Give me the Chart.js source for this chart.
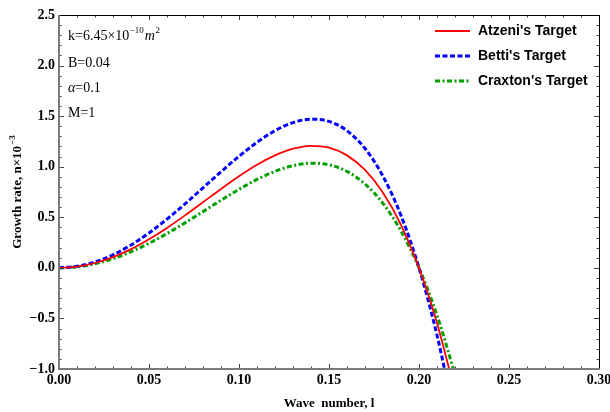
<!DOCTYPE html>
<html>
<head>
<meta charset="utf-8">
<script src="https://cdn.jsdelivr.net/npm/chart.js@4/dist/chart.umd.min.js"></script>
<style>
    html, body { margin: 0; padding: 0; background: #fff; }
    #wrap { width: 610px; height: 412px; }
</style>
</head>
<body>
<div id="wrap"><canvas id="growthChart" width="610" height="412"></canvas></div>
<script>
// Values
const waveNumbers = [0, 0.01, 0.02, 0.03, 0.04, 0.05, 0.06, 0.07, 0.08, 0.09, 0.10, 0.11,
    0.12, 0.13, 0.14, 0.15, 0.16, 0.17, 0.18, 0.19, 0.20, 0.21, 0.22];
const atzeniRate = [0, 0.012, 0.048, 0.106, 0.185, 0.283, 0.395, 0.519, 0.649, 0.780, 0.905, 1.019,
    1.112, 1.178, 1.207, 1.188, 1.112, 0.968, 0.743, 0.425, 0, -0.546, -1.227];
const bettiRate = [0, 0.015, 0.058, 0.129, 0.226, 0.345, 0.482, 0.632, 0.791, 0.950, 1.103, 1.241,
    1.356, 1.436, 1.470, 1.448, 1.356, 1.180, 0.906, 0.518, 0, -0.665, -1.495];
const craxtonRate = [0, 0.010, 0.041, 0.091, 0.159, 0.243, 0.339, 0.445, 0.556, 0.669, 0.776, 0.874,
    0.954, 1.010, 1.035, 1.019, 0.954, 0.830, 0.637, 0.364, 0, -0.468, -1.052];

const seriesLabels = ["Atzeni's Target", "Betti's Target", "Craxton's Target"];
const xTickValues = [0, 0.05, 0.10, 0.15, 0.20, 0.25, 0.30];
const yTickValues = [-1.0, -0.5, 0.0, 0.5, 1.0, 1.5, 2.0, 2.5];

const toPoints = (ys) => waveNumbers.map((x, i) => ({ x: x, y: ys[i] }));

// frame, inward ticks, legend box, parameter text and y title
const decorPlugin = {
    id: 'decor',
    afterDraw(chart) {
        const ctx = chart.ctx;
        const area = chart.chartArea;
        const xs = chart.scales.x;
        const ys = chart.scales.y;
        ctx.save();

        // minor + major ticks on all four sides
        ctx.lineWidth = 1;
        ctx.strokeStyle = '#444';
        for (let i = 0; i <= 30; i++) {
            const px = Math.round(xs.getPixelForValue(i * 0.01)) + 0.5;
            const len = i % 5 === 0 ? 5 : 2.5;
            ctx.beginPath();
            ctx.moveTo(px, area.bottom); ctx.lineTo(px, area.bottom - len);
            ctx.moveTo(px, area.top); ctx.lineTo(px, area.top + len);
            ctx.stroke();
        }
        for (let i = 0; i <= 35; i++) {
            const py = Math.round(ys.getPixelForValue(-1 + i * 0.1)) + 0.5;
            const len = i % 5 === 0 ? 5 : 2.5;
            ctx.beginPath();
            ctx.moveTo(area.left, py); ctx.lineTo(area.left + len, py);
            ctx.moveTo(area.right, py); ctx.lineTo(area.right - len, py);
            ctx.stroke();
        }

        // frame
        ctx.strokeStyle = '#000';
        ctx.lineWidth = 1;
        ctx.beginPath();
        ctx.moveTo(area.left, area.top + 0.5); ctx.lineTo(area.right + 0.5, area.top + 0.5);
        ctx.lineTo(area.right + 0.5, area.bottom);
        ctx.stroke();
        ctx.strokeStyle = '#7a7a7a';
        ctx.lineWidth = 2;
        ctx.beginPath();
        ctx.moveTo(area.left, area.top); ctx.lineTo(area.left, area.bottom);
        ctx.lineTo(area.right + 1, area.bottom);
        ctx.stroke();

        // legend
        ctx.font = 'bold 14px "Liberation Sans", Arial, sans-serif';
        ctx.textBaseline = 'middle';
        ctx.fillStyle = '#000';
        chart.data.datasets.forEach((ds, i) => {
            const y = 31 + i * 25;
            ctx.strokeStyle = ds.borderColor;
            ctx.lineWidth = ds.borderWidth;
            ctx.setLineDash(ds.borderDash || []);
            ctx.beginPath();
            ctx.moveTo(435, y); ctx.lineTo(470, y);
            ctx.stroke();
            ctx.setLineDash([]);
            ctx.fillText(ds.label, 478, y);
        });

        // parameter annotations
        ctx.textBaseline = 'alphabetic';
        const serif = '"Liberation Serif", "Times New Roman", serif';
        let x = 68;
        ctx.font = '14px ' + serif;
        ctx.fillText('k=6.45\u00d710', x, 40);
        x += ctx.measureText('k=6.45\u00d710').width;
        ctx.font = '9px ' + serif;
        ctx.fillText('\u221210', x + 0.5, 33);
        x += ctx.measureText('\u221210').width + 1.5;
        ctx.font = 'italic 14px ' + serif;
        ctx.fillText('m', x, 40);
        x += ctx.measureText('m').width;
        ctx.font = '9px ' + serif;
        ctx.fillText('2', x + 0.5, 33);

        ctx.font = '14px ' + serif;
        ctx.fillText('B=0.04', 68, 67);
        ctx.font = 'italic 14px ' + serif;
        ctx.fillText('\u03b1', 68, 92);
        const aw = ctx.measureText('\u03b1').width;
        ctx.font = '14px ' + serif;
        ctx.fillText('=0.1', 68 + aw, 92);
        ctx.fillText('M=1', 68, 117);

        // y axis title with superscript
        ctx.translate(18, (area.top + area.bottom) / 2);
        ctx.rotate(-Math.PI / 2);
        ctx.textBaseline = 'middle';
        ctx.font = 'bold 13px ' + serif;
        const main = 'Growth rate, n\u00d710';
        const mw = ctx.measureText(main).width;
        ctx.font = 'bold 9px ' + serif;
        const sup = '\u22123';
        const sw = ctx.measureText(sup).width;
        const start = -(mw + sw + 1) / 2;
        ctx.font = 'bold 13px ' + serif;
        ctx.fillText(main, start, 0);
        ctx.font = 'bold 9px ' + serif;
        ctx.fillText(sup, start + mw + 1, -5);

        ctx.restore();
    }
};

const tickFont = { family: '"Liberation Serif", "Times New Roman", serif', size: 14, weight: 'bold' };

new Chart(document.getElementById('growthChart'), {
    type: 'line',
    data: {
        datasets: [
            {
                label: seriesLabels[0],
                data: toPoints(atzeniRate),
                borderColor: '#ff0000',
                borderWidth: 1.8,
                pointRadius: 0,
                cubicInterpolationMode: 'monotone'
            },
            {
                label: seriesLabels[1],
                data: toPoints(bettiRate),
                borderColor: '#0000ff',
                borderWidth: 3,
                borderDash: [5, 2.5],
                pointRadius: 0,
                cubicInterpolationMode: 'monotone'
            },
            {
                label: seriesLabels[2],
                data: toPoints(craxtonRate),
                borderColor: '#00a000',
                borderWidth: 3,
                borderDash: [5, 2.5, 2, 2.5],
                pointRadius: 0,
                cubicInterpolationMode: 'monotone'
            }
        ]
    },
    options: {
        responsive: false,
        animation: false,
        layout: { padding: { top: 15, right: 11, left: 0, bottom: 0 } },
        plugins: {
            legend: { display: false },
            tooltip: { enabled: false }
        },
        scales: {
            x: {
                type: 'linear',
                min: 0,
                max: 0.3,
                afterBuildTicks: (s) => { s.ticks = xTickValues.map(v => ({ value: v })); },
                afterFit: (s) => { s.height = 43; s.paddingLeft = 0; s.paddingRight = 0; },
                grid: { display: false, drawTicks: false },
                border: { display: false },
                ticks: {
                    color: '#000',
                    font: tickFont,
                    padding: 3,
                    maxRotation: 0,
                    autoSkip: false,
                    callback: (v) => Number(v).toFixed(2)
                },
                title: {
                    display: true,
                    text: 'Wave  number, l',
                    color: '#000',
                    font: { family: '"Liberation Serif", "Times New Roman", serif', size: 13, weight: 'bold' },
                    padding: { top: 0, bottom: 1 }
                }
            },
            y: {
                min: -1,
                max: 2.5,
                afterBuildTicks: (s) => { s.ticks = yTickValues.map(v => ({ value: v })); },
                afterFit: (s) => { s.width = 59; s.paddingTop = 0; s.paddingBottom = 0; },
                grid: { display: false, drawTicks: false },
                border: { display: false },
                ticks: {
                    color: '#000',
                    font: tickFont,
                    padding: 4,
                    autoSkip: false,
                    callback: (v) => (v < 0 ? '\u2212' : '') + Math.abs(Number(v)).toFixed(1)
                },
                title: { display: false }
            }
        }
    },
    plugins: [decorPlugin]
});
</script>
</body>
</html>
